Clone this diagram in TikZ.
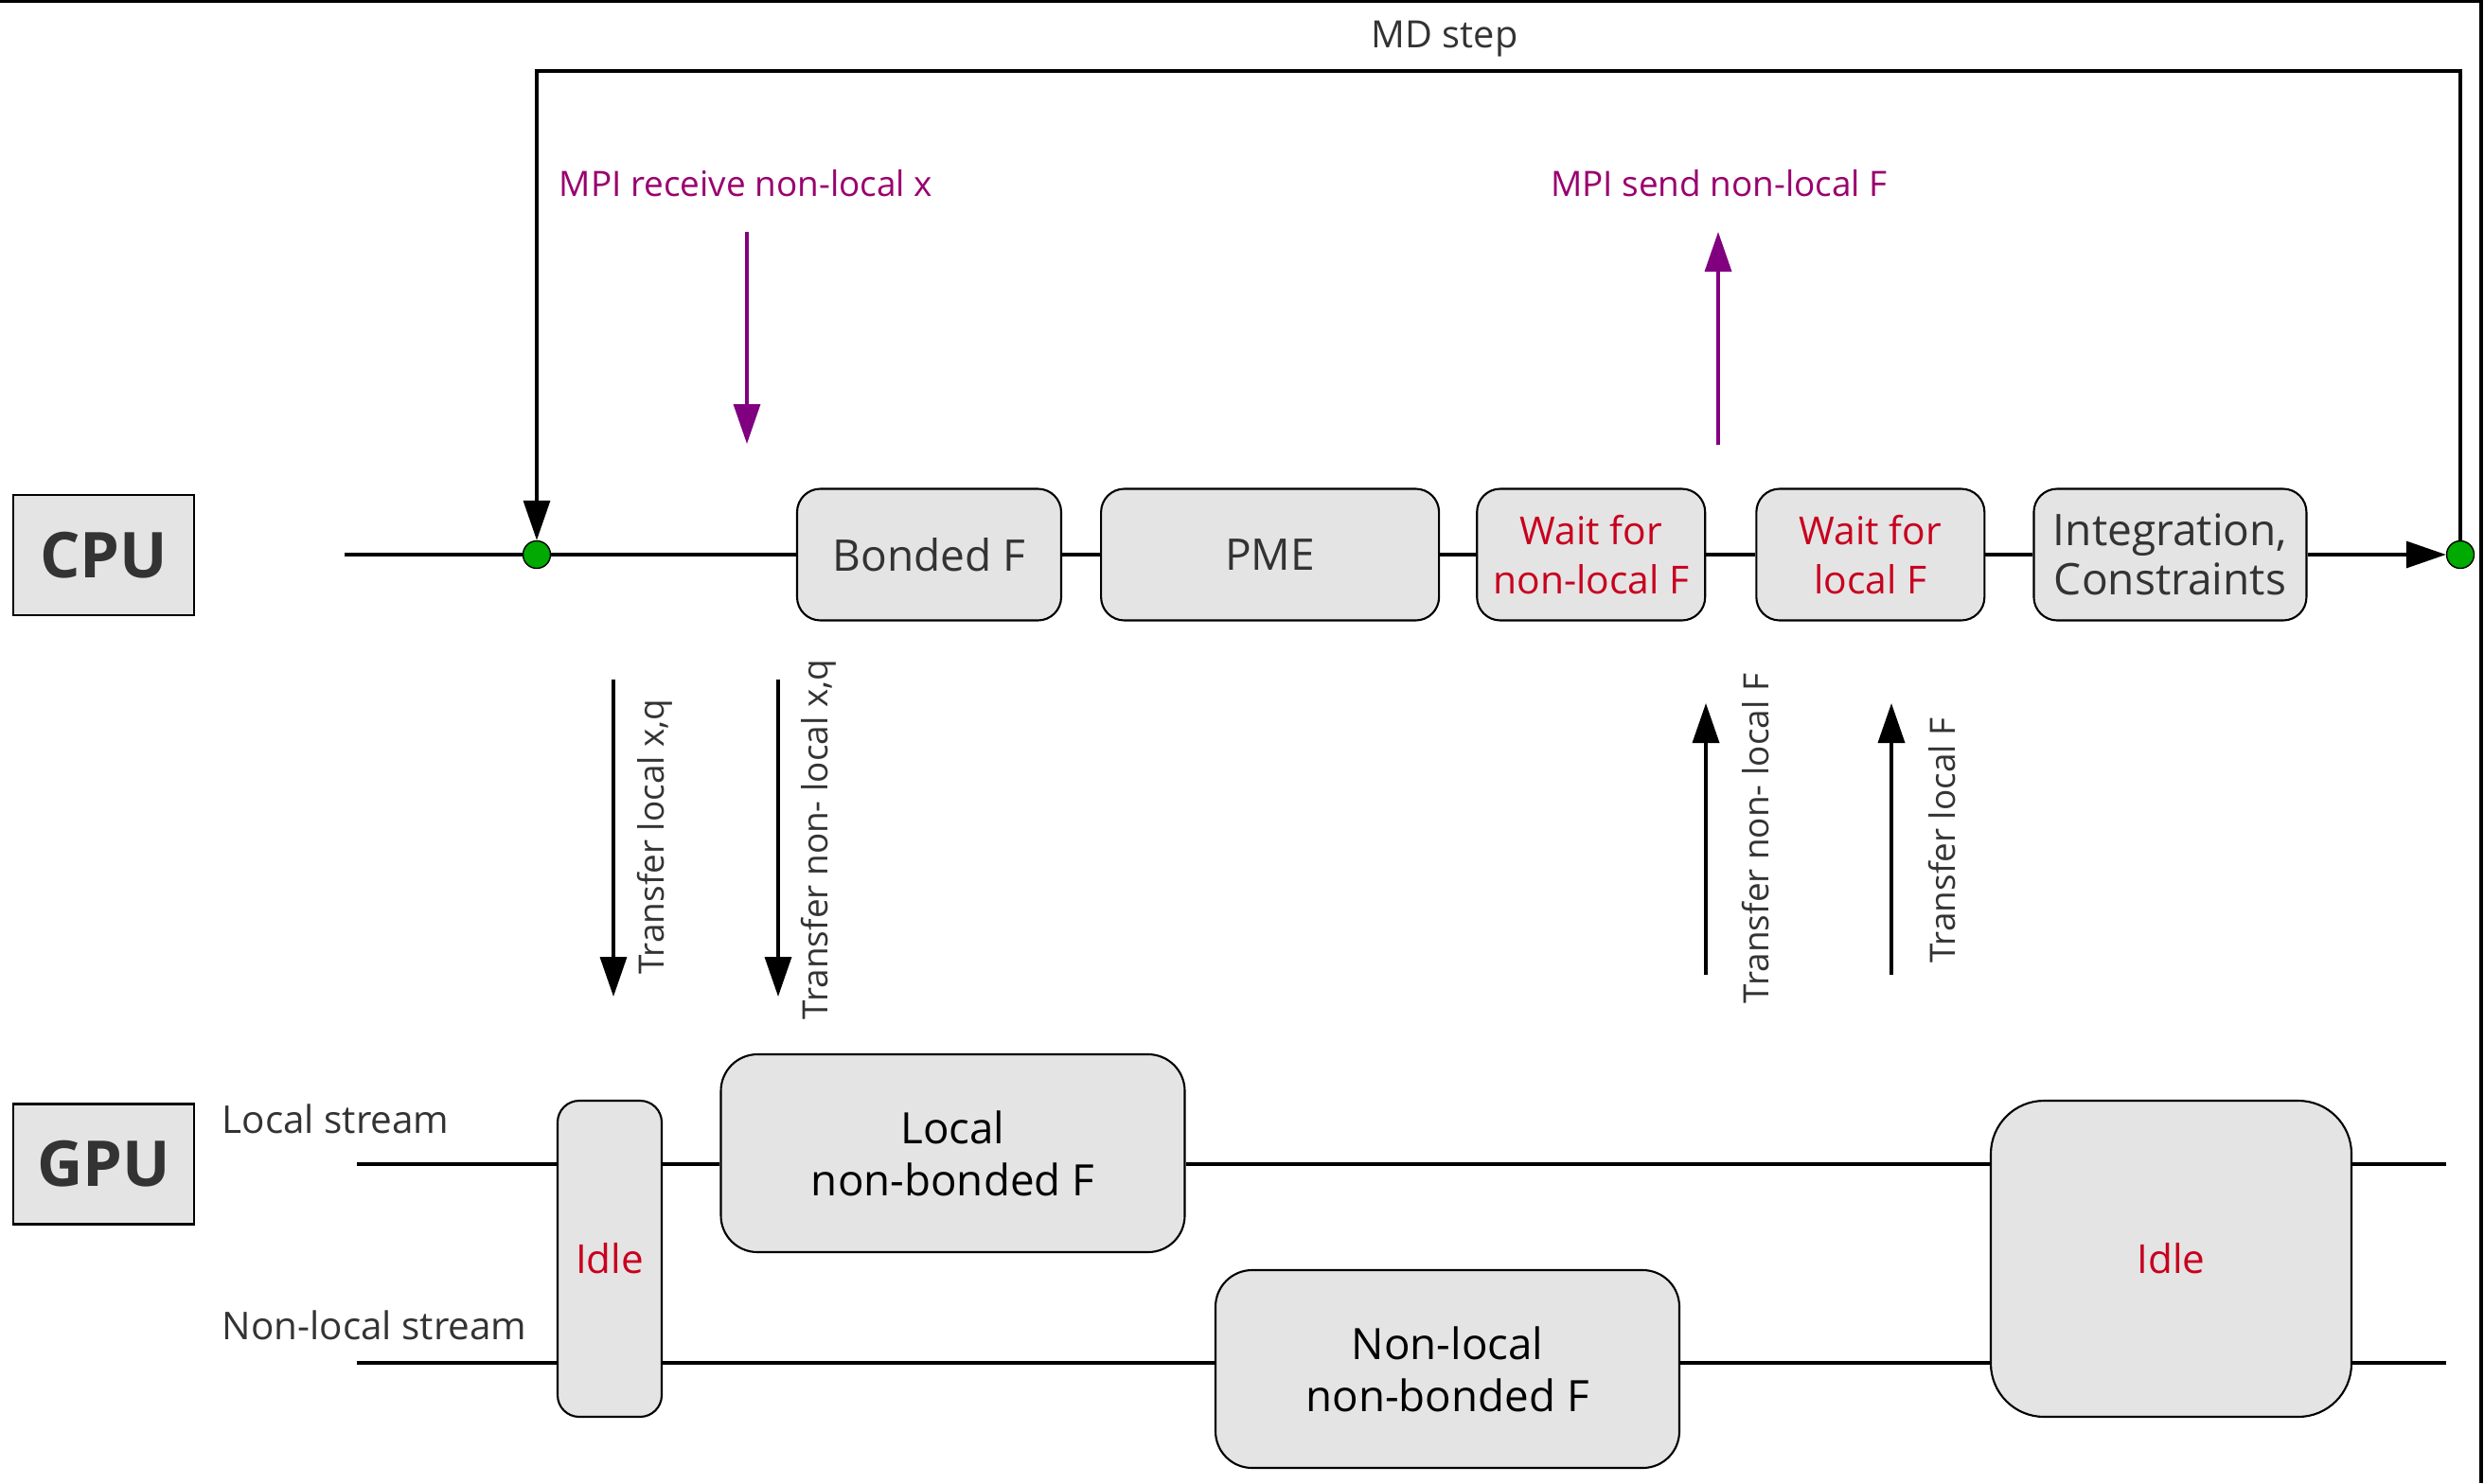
\documentclass[tikz,border=0pt]{standalone}
\usepackage{fontspec}
\setmainfont{Open Sans}
\usetikzlibrary{arrows.meta, positioning}
\definecolor{boxgray}{RGB}{228,228,228}
\definecolor{txtdark}{RGB}{51,51,51}
\definecolor{idlered}{RGB}{200,0,30}
\definecolor{mpitext}{RGB}{153,0,110}
\definecolor{mpiline}{RGB}{128,0,128}
\definecolor{dotgreen}{RGB}{0,170,0}

\begin{document}
\begin{tikzpicture}[
        cpubox/.style={rectangle, rounded corners=7pt, draw=black, line width=0.6pt, fill=boxgray, minimum height=1.39cm, inner sep=0pt, align=center, text=txtdark, font=\fontsize{13.1}{14.8}\selectfont},
        waitbox/.style={cpubox, text=idlered, font=\fontsize{11.6}{14.8}\selectfont},
        gpubox/.style={rectangle, rounded corners=11pt, draw=black, line width=0.6pt, fill=boxgray, minimum width=4.9cm, minimum height=2.09cm, inner sep=0pt, align=center, font=\fontsize{13}{15.7}\selectfont},
        idlebox/.style={gpubox, text=idlered, minimum height=3.34cm, font=\fontsize{12}{14}\selectfont},
        unit/.style={rectangle, draw=black, line width=0.6pt, fill=boxgray, minimum width=1.91cm, minimum height=1.27cm, inner sep=0pt, text=txtdark, font=\fontsize{19}{22}\selectfont\bfseries},
        dot/.style={circle, draw=black, line width=0.4pt, fill=dotgreen, minimum size=0.29cm, inner sep=0pt},
        lbl/.style={inner sep=0pt, text=txtdark, font=\fontsize{10.5}{12}\selectfont},
        mpi/.style={inner sep=0pt, text=mpitext, font=\fontsize{10.5}{12}\selectfont},
        line/.style={line width=1pt},
        arr/.style={line width=1pt, -{Triangle[length=4.2mm, width=2.8mm]}},
        mpiarr/.style={arr, draw=mpiline, fill=mpiline}
    ]
        \useasboundingbox (0,0) rectangle (26.24,-15.67);
        \draw[line width=0.9pt] (0,-0.01) -- (26.21,-0.01) -- (26.21,-15.67);

        % CPU
        \node[unit] (cpu) at (1.095,-5.865) {CPU};
        \coordinate (cpu0) at (3.64,-5.86);
        \node[dot] (dotL) at (5.67,-5.86) {};
        \node[cpubox, minimum width=2.79cm] (bonded) at (9.815,-5.86) {Bonded F};
        \node[cpubox, minimum width=3.57cm, right=0.40cm of bonded] (pme) {PME};
        \node[waitbox, minimum width=2.41cm, right=0.38cm of pme] (waitnl) {Wait for\\non-local F};
        \node[waitbox, minimum width=2.41cm, right=0.52cm of waitnl] (waitl) {Wait for\\local F};
        \node[cpubox, minimum width=2.88cm, right=0.50cm of waitl] (integ) {Integration,\\Constraints};
        \node[dot] (dotR) at (25.99,-5.86) {};

        \draw[line] (cpu0) -- (dotL) -- (bonded) -- (pme) -- (waitnl) -- (waitl) -- (integ);
        \draw[arr] (integ) -- (dotR);

        % MD step loop
        \coordinate (looptop) at (5.67,-0.75);
        \node[lbl, font=\fontsize{11.3}{13}\selectfont] (mdstep) at (15.26,-0.41) {MD step};
        \draw[arr] (dotR) |- (looptop) -- (dotL);

        % MPI
        \node[mpi] (mpirecv) at (7.88,-1.94) {MPI receive non-local x};
        \node[mpi] (mpisend) at (18.16,-1.94) {MPI send non-local F};
        \coordinate (recv0) at (7.89,-2.45);
        \coordinate (recv1) at (7.89,-4.69);
        \coordinate (send0) at (18.15,-4.70);
        \coordinate (send1) at (18.15,-2.45);
        \draw[mpiarr] (recv0) -- (recv1);
        \draw[mpiarr] (send0) -- (send1);

        % Transfers
        \coordinate (tlx0) at (6.48,-7.18);
        \coordinate (tlx1) at (6.48,-10.53);
        \coordinate (tnx0) at (8.22,-7.18);
        \coordinate (tnx1) at (8.22,-10.53);
        \coordinate (tnf0) at (18.02,-10.30);
        \coordinate (tnf1) at (18.02,-7.43);
        \coordinate (tlf0) at (19.98,-10.30);
        \coordinate (tlf1) at (19.98,-7.43);
        \draw[arr] (tlx0) -- (tlx1);
        \draw[arr] (tnx0) -- (tnx1);
        \draw[arr] (tnf0) -- (tnf1);
        \draw[arr] (tlf0) -- (tlf1);
        \node[lbl, rotate=90] (ltlx) at (6.92,-8.84) {Transfer local x,q};
        \node[lbl, rotate=90] (ltnx) at (8.65,-8.87) {Transfer non- local x,q};
        \node[lbl, rotate=90] (ltnf) at (18.55,-8.86) {Transfer non- local F};
        \node[lbl, rotate=90] (ltlf) at (20.52,-8.88) {Transfer local F};

        % GPU
        \node[unit] (gpu) at (1.095,-12.30) {GPU};
        \node[lbl, anchor=west, font=\fontsize{11.5}{13}\selectfont] (lstream) at (2.34,-11.82) {Local stream};
        \node[lbl, anchor=west, font=\fontsize{11.5}{13}\selectfont] (nlstream) at (2.34,-14.00) {Non-local stream};
        \coordinate (ls0) at (3.77,-12.30);
        \coordinate (ls1) at (25.84,-12.30);
        \coordinate (ns0) at (3.77,-14.40);
        \coordinate (ns1) at (25.84,-14.40);

        \node[idlebox, minimum width=1.10cm, rounded corners=6.5pt] (idleA) at (6.44,-13.30) {Idle};
        \node[gpubox] (lnb) at (10.065,-12.185) {Local\\non-bonded F};
        \node[gpubox] (nlnb) at (15.29,-14.465) {Non-local\\non-bonded F};
        \node[idlebox, minimum width=3.81cm, rounded corners=16pt] (idleB) at (22.935,-13.30) {Idle};

        \draw[line] (ls0) -- (ls0 -| idleA.west);
        \draw[line] (ls0 -| idleA.east) -- (ls0 -| lnb.west);
        \draw[line] (ls0 -| lnb.east) -- (ls0 -| idleB.west);
        \draw[line] (ls0 -| idleB.east) -- (ls1);
        \draw[line] (ns0) -- (ns0 -| idleA.west);
        \draw[line] (ns0 -| idleA.east) -- (ns0 -| nlnb.west);
        \draw[line] (ns0 -| nlnb.east) -- (ns0 -| idleB.west);
        \draw[line] (ns0 -| idleB.east) -- (ns1);
    \end{tikzpicture}
\end{document}
